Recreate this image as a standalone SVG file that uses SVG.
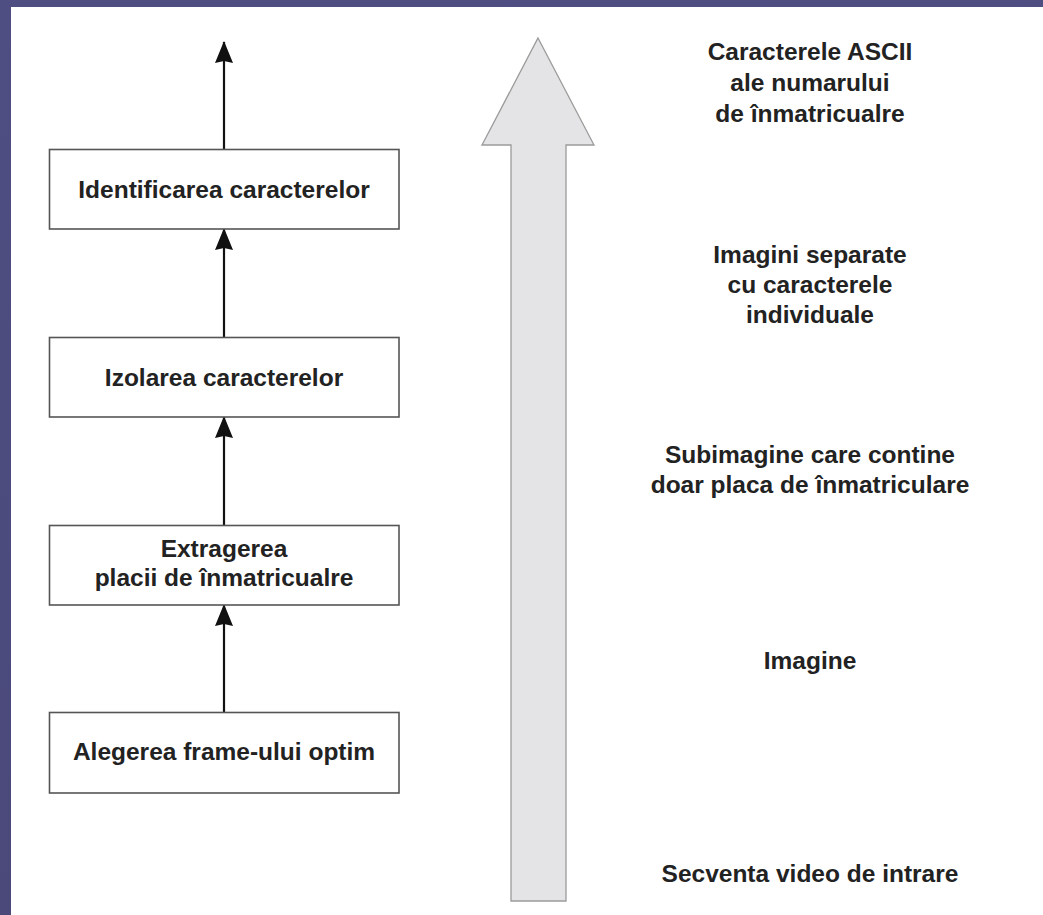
<svg xmlns="http://www.w3.org/2000/svg" width="1043" height="915" viewBox="0 0 1043 915">
<style>
.box{fill:#ffffff;stroke:#555555;stroke-width:1.6}
.t{font-family:"Liberation Sans",Arial,sans-serif;font-weight:bold;font-size:24.5px;fill:#222222;text-anchor:middle}
.conn{stroke:#111111;stroke-width:2.2;fill:none}
</style>
<defs>
<marker id="ah" viewBox="0 0 22 18" refX="21" refY="9" markerWidth="22" markerHeight="18" markerUnits="userSpaceOnUse" orient="auto">
<path d="M0 0 L22 9 L0 18 L2 9 Z" fill="#111111"/>
</marker>
<linearGradient id="bg" x1="0" y1="0" x2="0" y2="1">
<stop offset="0" stop-color="#4f4e82"/>
<stop offset="1" stop-color="#4a497a"/>
</linearGradient>
</defs>
<rect x="0" y="0" width="1043" height="915" fill="url(#bg)"/>
<rect x="11" y="7" width="1032" height="908" fill="#ffffff"/>

<g id="bigArrow">
<path d="M538 38 L594 145 L566 145 L566 901 L511 901 L511 145 L482 145 Z" fill="#e4e4e6" stroke="#9a9a9a" stroke-width="1.3"/>
</g>

<g id="connectors">
<line class="conn" x1="224" y1="149" x2="224" y2="42" marker-end="url(#ah)"/>
<line class="conn" x1="224" y1="337" x2="224" y2="229" marker-end="url(#ah)"/>
<line class="conn" x1="224" y1="525" x2="224" y2="417" marker-end="url(#ah)"/>
<line class="conn" x1="224" y1="712" x2="224" y2="605" marker-end="url(#ah)"/>
</g>

<g id="node-identificarea">
<rect class="box" x="49.5" y="149.5" width="349.5" height="79.5"/>
<text class="t" x="224" y="198">Identificarea caracterelor</text>
</g>
<g id="node-izolarea">
<rect class="box" x="49.5" y="337.5" width="349.5" height="79.5"/>
<text class="t" x="224" y="386">Izolarea caracterelor</text>
</g>
<g id="node-extragerea">
<rect class="box" x="49.5" y="525.5" width="349.5" height="79.5"/>
<text class="t" x="224" y="557">Extragerea</text>
<text class="t" x="224" y="586">placii de înmatricualre</text>
</g>
<g id="node-alegerea">
<rect class="box" x="49.5" y="712.5" width="349.5" height="80.5"/>
<text class="t" x="224" y="760">Alegerea frame-ului optim</text>
</g>

<g id="labels">
<text class="t" x="810" y="60">Caracterele ASCII</text>
<text class="t" x="810" y="91">ale numarului</text>
<text class="t" x="810" y="122">de înmatricualre</text>
<text class="t" x="810" y="263">Imagini separate</text>
<text class="t" x="810" y="293">cu caracterele</text>
<text class="t" x="810" y="323">individuale</text>
<text class="t" x="810" y="463">Subimagine care contine</text>
<text class="t" x="810" y="493">doar placa de înmatriculare</text>
<text class="t" x="810" y="669">Imagine</text>
<text class="t" x="810" y="882">Secventa video de intrare</text>
</g>
</svg>
